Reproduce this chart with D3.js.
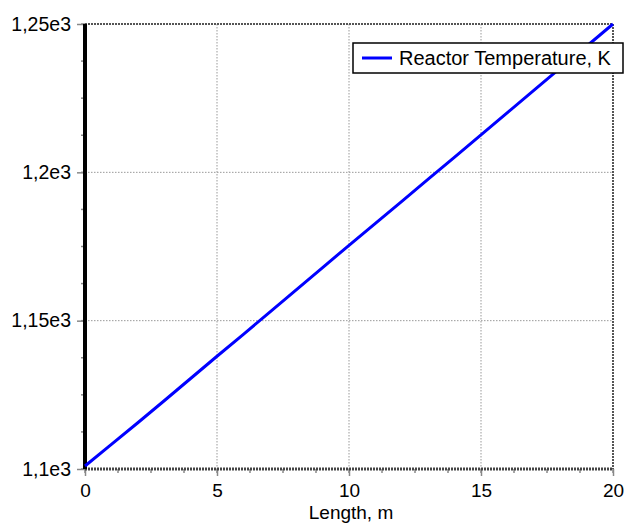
<!DOCTYPE html>
<html><head><meta charset="utf-8">
<script src="https://cdn.jsdelivr.net/npm/d3@7"></script>
<style>body{margin:0;background:#fff}svg{display:block}</style>
</head><body>
<svg id="c" width="625" height="527"></svg>
<script>
const lengths = [0,1,2,3,4,5,6,7,8,9,10,11,12,13,14,15,16,17,18,19,20];
const temps = [1101,1108.3,1115.6,1123,1130.5,1138,1145.4,1152.9,1160.4,1167.9,1175.4,1182.8,1190.2,1197.7,1205.1,1212.6,1220.1,1227.6,1235.1,1242.5,1250];
const xTicks = [0,5,10,15,20];
const xTickLabels = ["0","5","10","15","20"];
const yTicks = [1100,1150,1200,1250];
const yTickLabels = ["1,1e3","1,15e3","1,2e3","1,25e3"];
const seriesName = "Reactor Temperature, K";
const xTitle = "Length, m";

const svg = d3.select("#c");
const L=85,R=613,T=24,B=469;
const x = d3.scaleLinear().domain([0,20]).range([L,R]);
const y = d3.scaleLinear().domain([1100,1250]).range([B,T]);
const font = "'Liberation Sans', Arial, sans-serif";

// grid
const g = svg.append("g");
g.selectAll(".gx").data(xTicks.slice(1,-1)).enter().append("line")
 .attr("x1",d=>x(d)).attr("x2",d=>x(d)).attr("y1",T).attr("y2",B)
 .attr("stroke","#999").attr("stroke-width",1).attr("stroke-dasharray","1.5,1.5");
g.selectAll(".gy").data(yTicks.slice(1,-1)).enter().append("line")
 .attr("y1",d=>y(d)).attr("y2",d=>y(d)).attr("x1",L).attr("x2",R)
 .attr("stroke","#999").attr("stroke-width",1).attr("stroke-dasharray","1.5,1.5");
// top & right borders
g.append("line").attr("x1",L).attr("x2",R).attr("y1",T).attr("y2",T)
 .attr("stroke","#555").attr("stroke-width",2).attr("stroke-dasharray","2,1");
g.append("line").attr("x1",R).attr("x2",R).attr("y1",T).attr("y2",B)
 .attr("stroke","#555").attr("stroke-width",2).attr("stroke-dasharray","2,1");

// minor ticks
const xMinor = d3.range(0,20.01,1.25);
const yMinor = d3.range(1100,1250.01,12.5);
svg.append("g").selectAll("line").data(xMinor).enter().append("line")
 .attr("x1",d=>x(d)).attr("x2",d=>x(d)).attr("y1",B).attr("y2",B+4)
 .attr("stroke","#888").attr("stroke-width",1.5);
svg.append("g").selectAll("line").data(yMinor).enter().append("line")
 .attr("y1",d=>y(d)).attr("y2",d=>y(d)).attr("x1",L-4).attr("x2",L)
 .attr("stroke","#888").attr("stroke-width",1.5);

// axes
const xAxis = d3.axisBottom(x).tickValues(xTicks).tickFormat((d,i)=>xTickLabels[i]).tickSize(7).tickPadding(7.5);
const xa = svg.append("g").attr("transform",`translate(0,${B})`).call(xAxis);
xa.select(".domain").remove();
xa.selectAll(".tick line").attr("stroke","#888").attr("stroke-width",1.5);
xa.selectAll("text").attr("font-family",font).attr("font-size",19).attr("fill","#000");

const yAxis = d3.axisLeft(y).tickValues(yTicks).tickFormat((d,i)=>yTickLabels[i]).tickSize(8).tickPadding(6);
const ya = svg.append("g").attr("transform",`translate(${L},0)`).call(yAxis);
ya.select(".domain").remove();
ya.selectAll(".tick line").attr("stroke","#888").attr("stroke-width",1.5);
ya.selectAll("text").attr("font-family",font).attr("font-size",19.5).attr("fill","#000");

// bottom axis line (dotted dark)
svg.append("line").attr("x1",L).attr("x2",R).attr("y1",B).attr("y2",B)
 .attr("stroke","#444").attr("stroke-width",3).attr("stroke-dasharray","2,1");
// left axis thick black
svg.append("line").attr("x1",L).attr("x2",L).attr("y1",T).attr("y2",B)
 .attr("stroke","#000").attr("stroke-width",4);

// series
const line = d3.line().x((d,i)=>x(lengths[i])).y(d=>y(d));
svg.append("path").datum(temps).attr("d",line).attr("fill","none")
 .attr("stroke","#0000ff").attr("stroke-width",3);

// x title
svg.append("text").attr("x",(L+R)/2+2).attr("y",519).attr("text-anchor","middle")
 .attr("font-family",font).attr("font-size",19).text(xTitle);

// legend
const lg = svg.append("g");
lg.append("rect").attr("x",353).attr("y",43).attr("width",270).attr("height",30)
 .attr("fill","#fff").attr("stroke","#000").attr("stroke-width",1.5);
lg.append("line").attr("x1",362).attr("x2",392).attr("y1",58).attr("y2",58)
 .attr("stroke","#0000ff").attr("stroke-width",3);
lg.append("text").attr("x",399).attr("y",65).attr("font-family",font).attr("font-size",20)
 .text(seriesName);
</script>
</body></html>
